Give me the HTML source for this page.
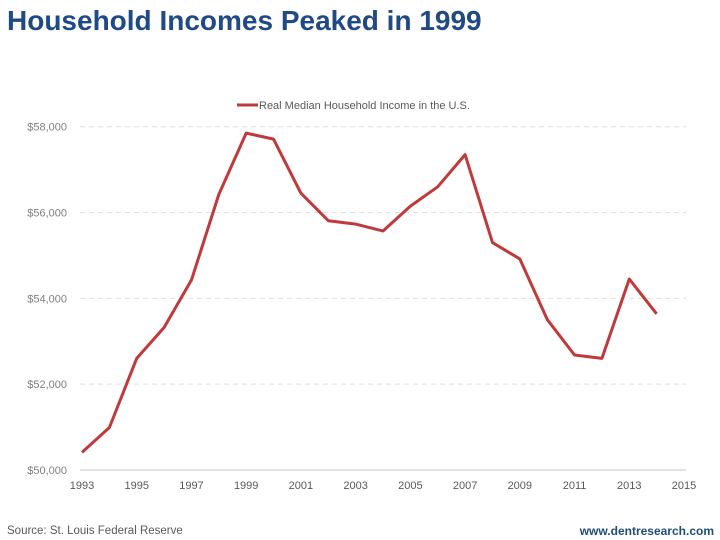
<!DOCTYPE html>
<html><head><meta charset="utf-8"><style>
html,body{margin:0;padding:0;background:#fff;}
svg{display:block;font-family:"Liberation Sans",sans-serif;}
</style></head><body>
<svg width="720" height="540" viewBox="0 0 720 540">
<text x="7" y="30" font-size="28" font-weight="bold" fill="#1f4a85">Household Incomes Peaked in 1999</text>
<g>
<line x1="237" y1="105" x2="258" y2="105" stroke="#c0393b" stroke-width="3"/>
<text x="259" y="109" font-size="11" fill="#595959">Real Median Household Income in the U.S.</text>
</g>
<g id="grid"></g>
<g id="yticks"></g>
<g id="xticks"></g>
<g id="series"></g>
<text x="7" y="534" font-size="11.5" fill="#595959">Source: St. Louis Federal Reserve</text>
<text x="714" y="535" font-size="12" font-weight="bold" fill="#1f4e79" text-anchor="end">www.dentresearch.com</text>
</svg>
<script>
const years = [1993,1994,1995,1996,1997,1998,1999,2000,2001,2002,2003,2004,2005,2006,2007,2008,2009,2010,2011,2012,2013,2014];
const incomes = [50410,50990,52600,53320,54430,56420,57850,57710,56450,55810,55730,55570,56150,56600,57350,55300,54920,53510,52680,52600,54450,53640];
const yTicks = [50000,52000,54000,56000,58000];
const yTickLabels = ["$50,000","$52,000","$54,000","$56,000","$58,000"];
const xTicks = [1993,1995,1997,1999,2001,2003,2005,2007,2009,2011,2013,2015];

const NS="http://www.w3.org/2000/svg";
const x0=82,x1=684,y0=470,y1=126.7;
function xs(v){return x0+(v-1993)/(2015-1993)*(x1-x0);}
function ys(v){return y0-(v-50000)/(58000-50000)*(y0-y1);}
function mk(tag,attrs,parent){const e=document.createElementNS(NS,tag);for(const k in attrs)e.setAttribute(k,attrs[k]);parent.appendChild(e);return e;}
const grid=document.getElementById('grid'),yt=document.getElementById('yticks'),xt=document.getElementById('xticks'),ser=document.getElementById('series');
yTicks.forEach((v,i)=>{
  const y=ys(v);
  const l=mk('line',{x1:80,x2:686,y1:y,y2:y,stroke:i===0?'#d9d9d9':'#e0e0e0','stroke-width':i===0?1.5:1,'stroke-dasharray':i===0?'none':'5,4'},grid);
  
  
  const t=mk('text',{x:67,y:y+4,'font-size':11,fill:'#7f7f7f','text-anchor':'end'},yt);
  t.textContent=yTickLabels[i];
  
  
});
xTicks.forEach(v=>{
  const t=mk('text',{x:xs(v),y:489,'font-size':11,fill:'#595959','text-anchor':'middle'},xt);
  t.textContent=String(v);
  
  
});
const pts=years.map((yr,i)=>xs(yr).toFixed(1)+','+ys(incomes[i]).toFixed(1)).join(' ');
const pl=mk('polyline',{points:pts,fill:'none',stroke:'#c0393b','stroke-width':3,'stroke-linejoin':'round'},ser);


</script>
</body></html>
